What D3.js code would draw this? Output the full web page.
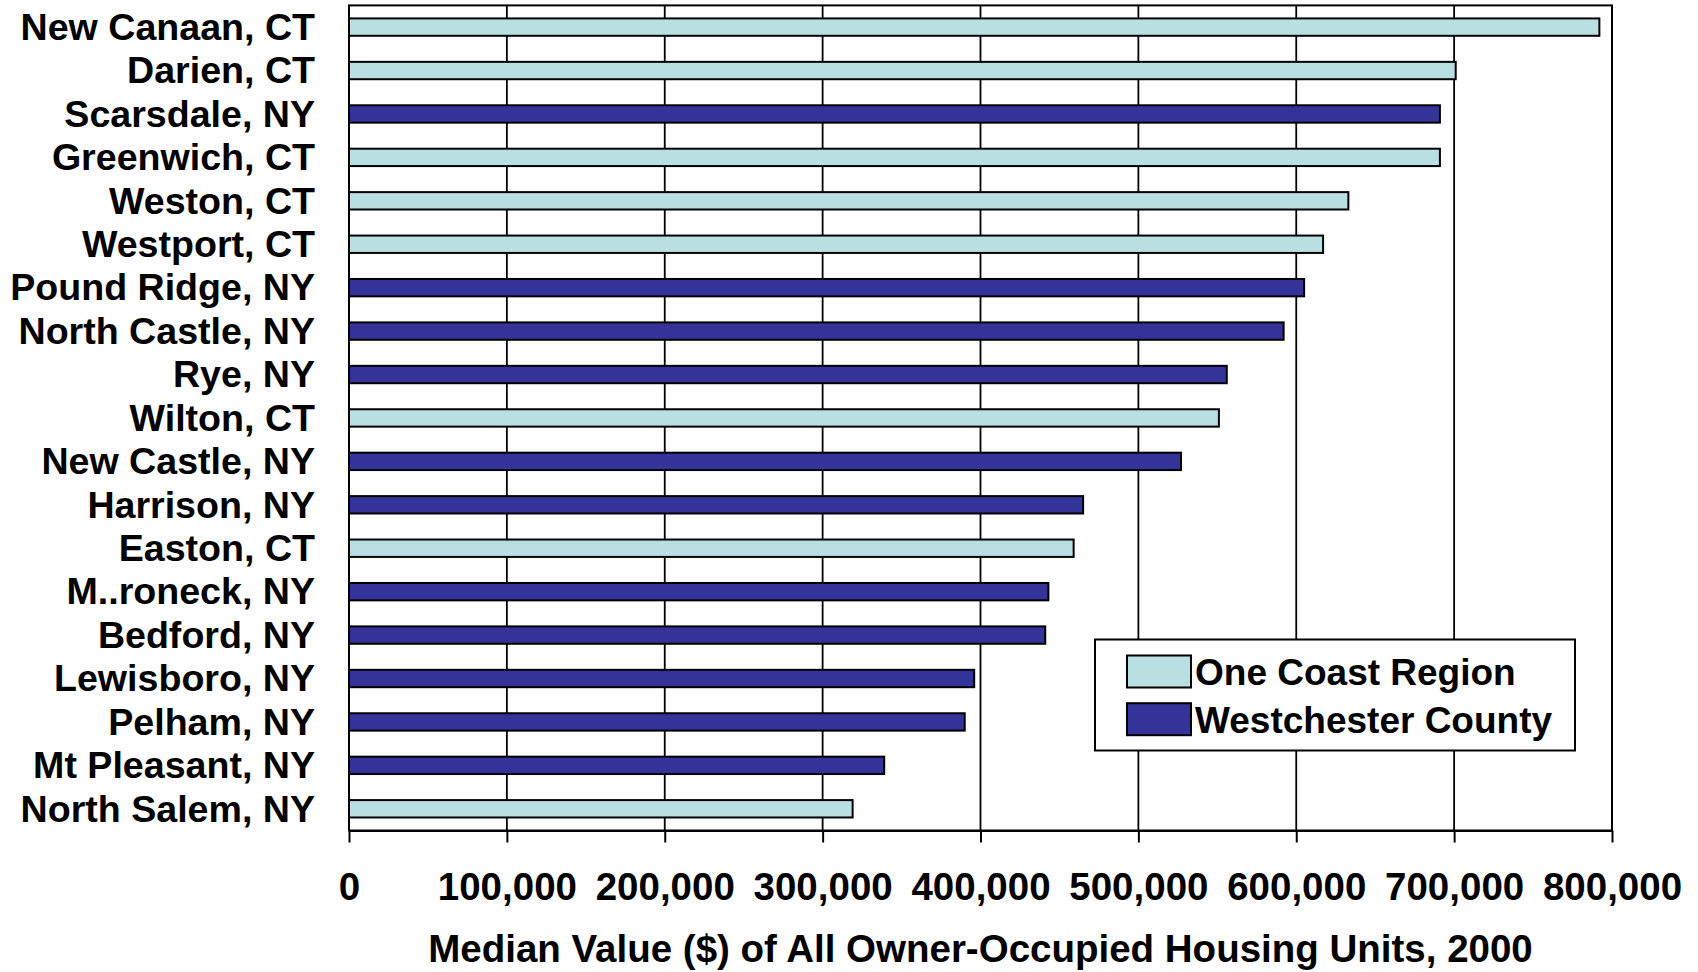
<!DOCTYPE html>
<html>
<head>
<meta charset="utf-8">
<script src="https://cdn.jsdelivr.net/npm/d3@7"></script>
<style>
  html, body { margin: 0; padding: 0; background: #fff; }
  svg { display: block; }
  text { font-family: "Liberation Sans", Arial, sans-serif; font-weight: bold; fill: #000; }
</style>
</head>
<body>
<svg id="chart" width="1698" height="972"></svg>
<script>
const towns = ["New Canaan, CT","Darien, CT","Scarsdale, NY","Greenwich, CT","Weston, CT","Westport, CT","Pound Ridge, NY","North Castle, NY","Rye, NY","Wilton, CT","New Castle, NY","Harrison, NY","Easton, CT","M..roneck, NY","Bedford, NY","Lewisboro, NY","Pelham, NY","Mt Pleasant, NY","North Salem, NY"];
const medianValues = [792000,701000,691000,691000,633000,617000,605000,592000,556000,551000,527000,465000,459000,443000,441000,396000,390000,339000,319000];
const regions = ["One Coast Region","One Coast Region","Westchester County","One Coast Region","One Coast Region","One Coast Region","Westchester County","Westchester County","Westchester County","One Coast Region","Westchester County","Westchester County","One Coast Region","Westchester County","Westchester County","Westchester County","Westchester County","Westchester County","One Coast Region"];
const seriesNames = ["One Coast Region","Westchester County"];
const tickValues = [0,100000,200000,300000,400000,500000,600000,700000,800000];
const axisTitle = "Median Value ($) of All Owner-Occupied Housing Units, 2000";

const colors = {"One Coast Region": "#B8E0E3", "Westchester County": "#333399"};
const L = 349, R = 1612, T = 5.4, B = 830.5;

const svg = d3.select("#chart");
const x = d3.scaleLinear().domain([0, 800000]).range([L, R]);
const y = d3.scaleBand().domain(towns).range([T, B]).paddingInner(0.6).paddingOuter(0.3);

// gridlines
svg.append("g").selectAll("line").data(tickValues.slice(1, -1)).join("line")
  .attr("x1", d => x(d)).attr("x2", d => x(d))
  .attr("y1", T).attr("y2", B)
  .attr("stroke", "#000").attr("stroke-width", 1.8);

// plot frame
svg.append("rect").attr("x", L).attr("y", T).attr("width", R - L).attr("height", B - T)
  .attr("fill", "none").attr("stroke", "#000").attr("stroke-width", 2);

// bars
svg.append("g").selectAll("rect").data(towns).join("rect")
  .attr("x", x(0))
  .attr("y", d => y(d))
  .attr("width", (d, i) => x(medianValues[i]) - x(0))
  .attr("height", y.bandwidth())
  .attr("fill", (d, i) => colors[regions[i]])
  .attr("stroke", "#000").attr("stroke-width", 2);

// bottom axis
const xAxis = d3.axisBottom(x).tickValues(tickValues).tickSizeInner(12).tickSizeOuter(0)
  .tickFormat(d3.format(","));
const gx = svg.append("g").attr("transform", `translate(0,${B})`).call(xAxis);
gx.select(".domain").attr("stroke", "#000").attr("stroke-width", 2);
gx.selectAll(".tick line").attr("stroke", "#000").attr("stroke-width", 2);
gx.selectAll(".tick text").attr("y", 69).attr("dy", null)
  .style("font-size", "38.5px").style("font-family", '"Liberation Sans", Arial, sans-serif')
  .style("font-weight", "bold").attr("fill", "#000");

// left axis line
svg.append("line").attr("x1", L).attr("x2", L).attr("y1", T).attr("y2", B)
  .attr("stroke", "#000").attr("stroke-width", 2);

// category labels
svg.append("g").selectAll("text").data(towns).join("text")
  .attr("x", 315)
  .attr("y", d => y(d) + y.bandwidth() / 2)
  .attr("dy", "0.34em")
  .attr("text-anchor", "end")
  .style("font-size", "37.6px")
  .text(d => d);

// axis title
svg.append("text").attr("x", (L + R) / 2).attr("y", 962)
  .attr("text-anchor", "middle").style("font-size", "38.5px").text(axisTitle);

// legend
const lg = svg.append("g");
lg.append("rect").attr("x", 1095).attr("y", 639.5).attr("width", 480).attr("height", 111)
  .attr("fill", "#fff").attr("stroke", "#000").attr("stroke-width", 2);
const li = lg.selectAll("g.item").data(seriesNames).join("g").attr("class", "item")
  .attr("transform", (d, i) => `translate(0,${i * 47.7})`);
li.append("rect").attr("x", 1127).attr("y", 655.5).attr("width", 64).attr("height", 32)
  .attr("fill", d => colors[d]).attr("stroke", "#000").attr("stroke-width", 2);
li.append("text").attr("x", 1195).attr("y", 685).style("font-size", "37px").text(d => d);
</script>
</body>
</html>
